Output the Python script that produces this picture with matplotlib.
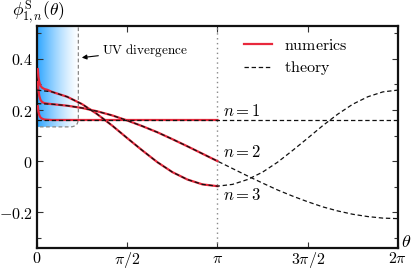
import numpy as np
import matplotlib
matplotlib.use("Agg")
import matplotlib.pyplot as plt
from matplotlib.patches import FancyBboxPatch

plt.rcParams['mathtext.fontset'] = 'cm'
plt.rcParams['font.family'] = 'serif'
plt.rcParams['font.serif'] = ['DejaVu Serif']

# theory curves, sampled every pi/12 from 0 to 2pi
theta_th = np.pi / 12 * np.arange(25)
th_n1 = [0.161] * 25
th_n2 = [0.225, 0.223, 0.217, 0.208, 0.195, 0.179, 0.159, 0.137, 0.113, 0.086,
         0.058, 0.029, 0.0, -0.029, -0.058, -0.086, -0.113, -0.137, -0.159,
         -0.179, -0.195, -0.208, -0.217, -0.223, -0.225]
th_n3 = [0.278, 0.271, 0.252, 0.223, 0.184, 0.139, 0.090, 0.042, -0.004, -0.043,
         -0.072, -0.091, -0.098, -0.091, -0.072, -0.043, -0.004, 0.042, 0.090,
         0.139, 0.184, 0.223, 0.252, 0.271, 0.278]

# numerics, from near 0 up to pi (diverge at small theta)
theta_num = np.concatenate([[0.015, 0.025, 0.04, 0.06, 0.09, 0.13, 0.18],
                            np.pi / 12 * np.arange(1, 13)])
num_n1 = [0.215, 0.195, 0.18, 0.171, 0.166, 0.163, 0.162] + [0.161] * 12
num_n2 = [0.31, 0.28, 0.255, 0.24, 0.231, 0.227, 0.225,
          0.223, 0.217, 0.208, 0.195, 0.179, 0.159, 0.137, 0.113, 0.086,
          0.058, 0.029, 0.0]
num_n3 = [0.36, 0.33, 0.31, 0.295, 0.287, 0.282, 0.279,
          0.271, 0.252, 0.223, 0.184, 0.139, 0.090, 0.042, -0.004, -0.043,
          -0.072, -0.091, -0.098]

xticks = [0, np.pi / 2, np.pi, 3 * np.pi / 2, 2 * np.pi]
xticklabels = [r'$0$', r'$\pi/2$', r'$\pi$', r'$3\pi/2$', r'$2\pi$']
yticks = [-0.2, 0, 0.2, 0.4]
yticklabels = [r'$-0.2$', r'$0$', r'$0.2$', r'$0.4$']

fig = plt.figure(figsize=(4.17, 2.69), dpi=100)
ax = fig.add_axes([0.0887, 0.078, 0.8657, 0.8265])
ax.set_xlim(0, 2 * np.pi)
ax.set_ylim(-0.34, 0.53)

# UV divergence shaded region
uv_x1, uv_y0 = 0.72, 0.134
grad = np.linspace(0, 1, 200)
blue = np.array([0.18, 0.65, 1.0])
w = (1 - grad) ** 1.3
img = np.ones((2, 200, 3)) * (1 - w)[None, :, None] + blue[None, None, :] * w[None, :, None]
box = FancyBboxPatch((-0.2, uv_y0), uv_x1 + 0.2, 0.6,
                     boxstyle="round,pad=0,rounding_size=0.14",
                     mutation_aspect=0.225, facecolor='none',
                     edgecolor='#888888', ls=(0, (3, 2)), lw=0.9, zorder=2)
ax.add_patch(box)
im = ax.imshow(img, extent=[0, uv_x1, uv_y0, 0.6], aspect='auto', zorder=1)
im.set_clip_path(box)

ax.axvline(np.pi, color='#888888', ls=(0, (1, 2.5)), lw=1.0, zorder=2)

red = '#e8283c'
for yv in (num_n1, num_n2, num_n3):
    ax.plot(theta_num, yv, color=red, lw=1.6, zorder=3)
ax.plot([], [], color=red, lw=1.6, label=r'$\mathrm{numerics}$')
for i, yv in enumerate((th_n1, th_n2, th_n3)):
    ax.plot(theta_th, yv, color='#111111', lw=0.9, ls=(0, (3.5, 2.2)), zorder=4,
            label=r'$\mathrm{theory}$' if i == 0 else None)

ax.text(np.pi + 0.09, 0.162, r'$n=1$', fontsize=12, va='bottom', ha='left')
ax.text(np.pi + 0.09, 0.0, r'$n=2$', fontsize=12, va='bottom', ha='left')
ax.text(np.pi + 0.09, -0.1, r'$n=3$', fontsize=12, va='top', ha='left')

ax.annotate(r'$\mathrm{UV\ divergence}$', xy=(0.78, 0.405), xytext=(1.14, 0.434),
            fontsize=9.5, va='center', ha='left',
            arrowprops=dict(arrowstyle='-|>', color='black', lw=0.8,
                            mutation_scale=7, shrinkA=1, shrinkB=0))

ax.legend(loc='upper left', bbox_to_anchor=(0.555, 0.98), frameon=False,
          fontsize=11.5, handlelength=1.75, handletextpad=0.8, labelspacing=0.35,
          borderaxespad=0)

ax.set_xticks(xticks)
ax.set_xticklabels(xticklabels, fontsize=11.5)
ax.set_yticks(yticks)
ax.set_yticklabels(yticklabels, fontsize=11.5)
ax.set_yticks([-0.3, -0.1, 0.1, 0.3, 0.5], minor=True)
ax.tick_params(which='both', direction='in', top=True, right=True, width=0.8,
               color='#333333')
ax.tick_params(which='major', length=4, pad=3)
ax.tick_params(axis='x', which='major', pad=1.5)
ax.tick_params(which='minor', length=3)
for s in ax.spines.values():
    s.set_linewidth(1.6)
    s.set_color('#111111')

fig.text(0.028, 0.952, r'$\phi^{\rm S}_{1,n}(\theta)$', fontsize=12.5, va='center', ha='left')
fig.text(0.962, 0.1, r'$\theta$', fontsize=13, va='center', ha='left')

fig.savefig('out.png', dpi=100)
